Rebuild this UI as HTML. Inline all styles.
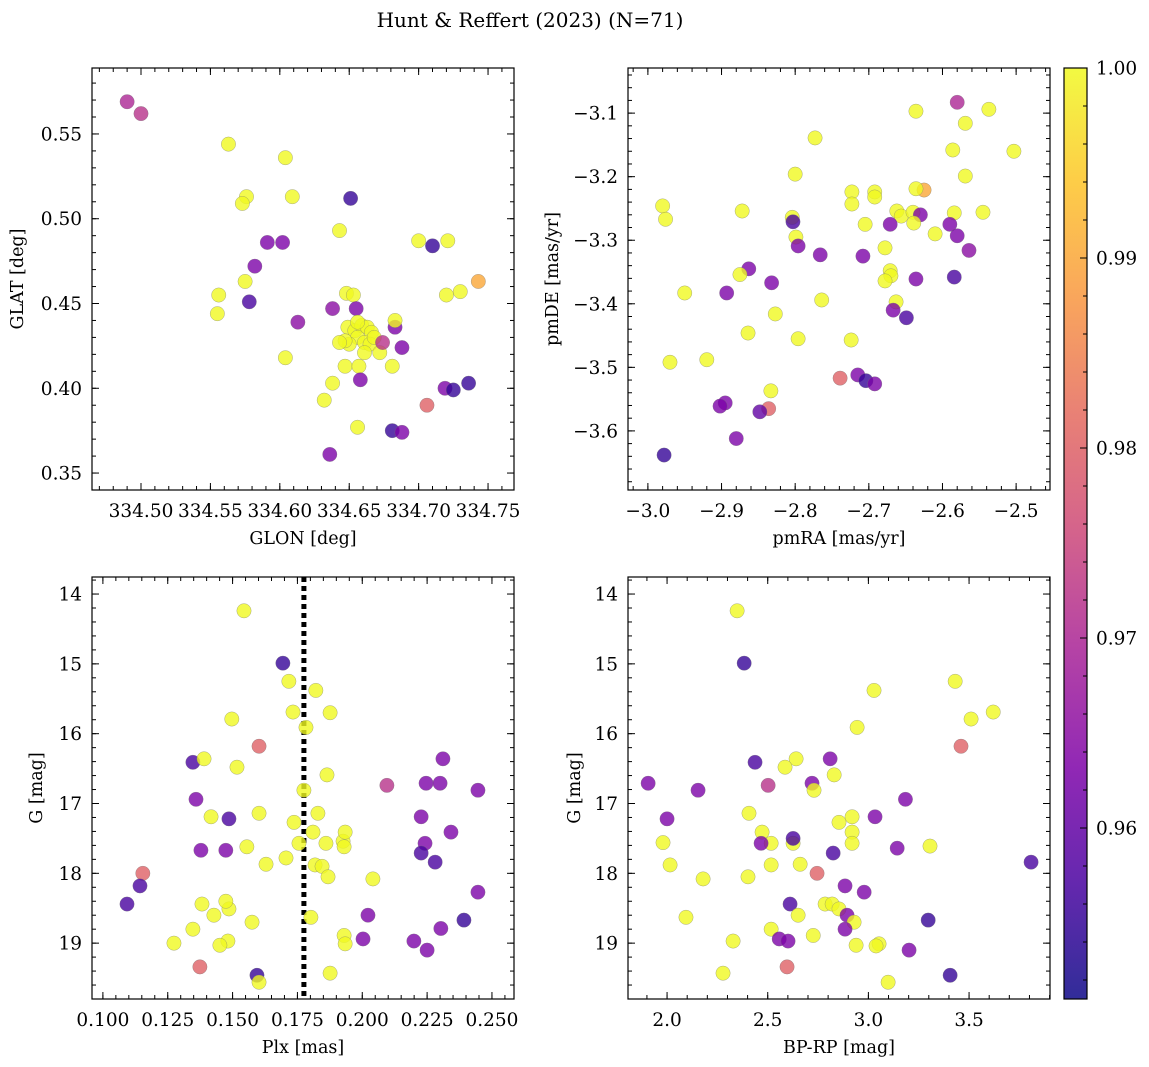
<!DOCTYPE html>
<html><head><meta charset="utf-8"><style>
body{margin:0;background:#fff;}
svg{display:block;font-family:"DejaVu Serif","Liberation Serif",serif;}
</style></head><body>
<svg id="fig" width="1149" height="1067">
<defs><linearGradient id="cmap" x1="0" y1="1" x2="0" y2="0">
<stop offset="0" stop-color="#0d0887"/><stop offset="0.13" stop-color="#4c02a1"/><stop offset="0.25" stop-color="#7e03a8"/><stop offset="0.38" stop-color="#a92395"/><stop offset="0.5" stop-color="#cc4778"/><stop offset="0.63" stop-color="#e56b5d"/><stop offset="0.75" stop-color="#f89540"/><stop offset="0.88" stop-color="#fdc527"/><stop offset="1" stop-color="#f0f921"/></linearGradient></defs>
<text x="530" y="27" font-size="20" text-anchor="middle">Hunt &amp; Reffert (2023) (N=71)</text>
</svg>
<script>
// ---- data ----
const tlGlon=[334.490,334.500,334.563,334.604,334.576,334.573,334.609,334.651,334.643,334.591,334.602,334.700,334.710,334.721,334.582,334.575,334.743,334.556,334.730,334.720,334.578,334.555,334.613,334.638,334.648,334.653,334.655,334.604,334.649,334.654,334.659,334.663,334.666,334.656,334.661,334.650,334.665,334.661,334.656,334.668,334.647,334.672,334.643,334.674,334.683,334.683,334.688,334.647,334.681,334.657,334.658,334.638,334.632,334.656,334.719,334.725,334.736,334.706,334.681,334.688,334.636];
const tlGlat=[0.569,0.562,0.544,0.536,0.513,0.509,0.513,0.512,0.493,0.486,0.486,0.487,0.484,0.487,0.472,0.463,0.463,0.455,0.457,0.455,0.451,0.444,0.439,0.447,0.456,0.455,0.447,0.418,0.436,0.434,0.437,0.436,0.433,0.430,0.427,0.426,0.426,0.421,0.439,0.430,0.428,0.421,0.427,0.427,0.436,0.440,0.424,0.413,0.413,0.413,0.405,0.403,0.393,0.377,0.400,0.399,0.403,0.390,0.375,0.374,0.361];
const tlProb=[.970,.972,1,1,1,1,1,.955,1,.963,.963,1,.955,1,.963,1,.99,1,1,1,.957,1,.965,.965,1,1,.963,1,1,1,1,1,1,1,1,1,1,1,1,1,1,1,1,.972,.963,1,.963,1,1,1,.963,1,1,1,.963,.955,.955,.98,.955,.963,.963];

const trPmra=[-2.580,-2.537,-2.636,-2.569,-2.773,-2.586,-2.503,-2.800,-2.569,-2.723,-2.692,-2.625,-2.636,-2.723,-2.692,-2.980,-2.976,-2.872,-2.804,-2.662,-2.656,-2.640,-2.630,-2.639,-2.584,-2.545,-2.590,-2.705,-2.671,-2.803,-2.610,-2.580,-2.799,-2.796,-2.564,-2.678,-2.766,-2.708,-2.863,-2.671,-2.670,-2.875,-2.636,-2.678,-2.584,-2.832,-2.950,-2.893,-2.764,-2.663,-2.667,-2.649,-2.827,-2.864,-2.796,-2.724,-2.920,-2.970,-2.715,-2.704,-2.692,-2.739,-2.833,-2.895,-2.902,-2.836,-2.848,-2.880,-2.978];
const trPmde=[-3.083,-3.094,-3.097,-3.116,-3.139,-3.158,-3.160,-3.196,-3.199,-3.224,-3.224,-3.221,-3.219,-3.243,-3.232,-3.246,-3.267,-3.254,-3.264,-3.254,-3.262,-3.256,-3.260,-3.273,-3.257,-3.256,-3.275,-3.275,-3.275,-3.271,-3.290,-3.293,-3.295,-3.309,-3.316,-3.312,-3.323,-3.325,-3.345,-3.348,-3.356,-3.354,-3.361,-3.364,-3.358,-3.367,-3.383,-3.383,-3.394,-3.397,-3.410,-3.422,-3.416,-3.446,-3.455,-3.457,-3.488,-3.492,-3.512,-3.521,-3.526,-3.517,-3.537,-3.556,-3.561,-3.565,-3.570,-3.612,-3.638];
const trProb=[.97,1,1,1,1,1,1,1,1,1,1,.99,1,1,1,1,1,1,1,1,1,1,.963,1,1,1,.963,1,.963,.957,1,.963,1,.963,.965,1,.963,.963,.963,1,1,1,.963,1,.957,.963,1,.963,1,1,.963,.957,1,1,1,1,1,1,.963,.955,.963,.98,1,.963,.963,.98,.96,.963,.955];

const blPlx=[0.1544,0.1694,0.1717,0.1821,0.1733,0.1497,0.1783,0.1876,0.1602,0.1347,0.1390,0.1517,0.2311,0.1864,0.2095,0.2246,0.2300,0.2446,0.1775,0.1359,0.1417,0.1486,0.1602,0.1829,0.1737,0.2227,0.1810,0.1926,0.1934,0.1860,0.1756,0.2342,0.2242,0.1378,0.1474,0.1555,0.1930,0.2227,0.2281,0.1629,0.1706,0.1818,0.1845,0.1868,0.2041,0.1154,0.1143,0.2446,0.1093,0.1382,0.1486,0.1474,0.1428,0.1575,0.1802,0.2022,0.1347,0.2392,0.2303,0.1930,0.2003,0.1934,0.1274,0.1482,0.1451,0.2199,0.2250,0.1374,0.1876,0.1594,0.1602];
const blG=[14.24,14.99,15.25,15.38,15.69,15.79,15.91,15.70,16.18,16.41,16.36,16.48,16.36,16.59,16.74,16.71,16.71,16.81,16.81,16.94,17.19,17.22,17.14,17.14,17.27,17.19,17.41,17.54,17.41,17.57,17.57,17.41,17.57,17.67,17.67,17.62,17.62,17.71,17.84,17.87,17.78,17.88,17.90,18.05,18.08,18.00,18.18,18.27,18.44,18.44,18.51,18.40,18.60,18.70,18.63,18.60,18.80,18.67,18.79,18.89,18.94,19.01,19.00,18.97,19.03,18.97,19.10,19.34,19.43,19.46,19.56];
const blProb=[1,.955,1,1,1,1,1,1,.98,.957,1,1,.963,1,.972,.963,.963,.963,1,.963,1,.957,1,1,1,.963,1,1,1,1,1,.963,.963,.963,.963,1,1,.957,.957,1,1,1,1,1,1,.98,.957,.963,.957,1,1,1,1,1,1,.963,1,.955,.963,1,.963,1,1,1,1,.963,.963,.98,1,.955,1];
const plxLine=[0.1775];

const brColor=[2.348,2.383,3.431,3.028,3.620,3.510,2.944,3.460,2.437,2.641,2.586,2.810,2.830,2.502,2.720,1.906,2.154,2.730,3.184,2.407,2.000,2.919,3.033,2.854,2.472,2.919,2.517,2.626,2.919,1.980,2.467,3.306,3.143,2.626,2.825,2.015,2.402,2.517,2.661,3.808,2.179,2.745,2.979,2.884,2.611,2.785,2.820,2.854,2.094,2.651,2.894,2.929,3.297,2.884,2.517,2.726,2.557,2.601,2.328,2.939,3.053,3.038,3.202,2.596,2.278,3.406,3.098];
const brG=[14.24,14.99,15.25,15.38,15.69,15.79,15.91,16.18,16.41,16.36,16.48,16.36,16.59,16.74,16.71,16.71,16.81,16.81,16.94,17.14,17.22,17.19,17.19,17.27,17.41,17.41,17.57,17.57,17.57,17.56,17.57,17.61,17.64,17.50,17.71,17.88,18.05,17.88,17.87,17.84,18.08,18.00,18.27,18.18,18.44,18.44,18.44,18.51,18.63,18.60,18.60,18.70,18.67,18.80,18.80,18.89,18.94,18.97,18.97,19.03,19.01,19.04,19.10,19.34,19.43,19.46,19.56];
const brProb=[1,.955,1,1,1,1,1,.98,.957,1,1,.963,1,.972,.963,.963,.963,1,.963,1,.963,1,.963,1,1,1,1,1,1,1,.963,1,.963,.957,.957,1,1,1,1,.957,1,.98,.963,.963,.957,1,1,1,1,1,.963,1,.955,.963,1,1,.963,.963,1,1,1,1,.963,.98,1,.955,1];

const cbTicks=[0.96,0.97,0.98,0.99,1.00];
const cbMin=0.951, cbMax=1.0;

// ---- drawing ----
const NS='http://www.w3.org/2000/svg';
const svg=document.getElementById('fig');
function mk(tag,attrs,parent){const e=document.createElementNS(NS,tag);for(const k in attrs)e.setAttribute(k,attrs[k]);(parent||svg).appendChild(e);return e;}
const stops=[[0,[13,8,135]],[0.13,[76,2,161]],[0.25,[126,3,168]],[0.38,[169,35,149]],[0.5,[204,71,120]],[0.63,[229,107,93]],[0.75,[248,149,64]],[0.88,[253,197,39]],[1,[240,249,33]]];
function plasma(v){let t=(v-cbMin)/(cbMax-cbMin);t=Math.max(0,Math.min(1,t));for(let i=1;i<stops.length;i++){if(t<=stops[i][0]){const a=stops[i-1],b=stops[i];const f=(t-a[0])/(b[0]-a[0]);const c=a[1].map((x,j)=>Math.round(x+(b[1][j]-x)*f));return `rgb(${c.join(',')})`;}}return 'rgb(240,249,33)';}
function lin(d0,d1,p0,p1){return v=>p0+(v-d0)/(d1-d0)*(p1-p0);}
const TFS=18.5, LFS=17.5;

function panel(o){
  const g=mk('g',{});
  
  
  const sx=lin(o.xd[0],o.xd[1],o.L,o.R), sy=lin(o.yd[0],o.yd[1],o.B,o.T);
  const cp=mk('clipPath',{id:'c'+o.name},g);mk('rect',{x:o.L,y:o.T,width:o.R-o.L,height:o.B-o.T},cp);
  const pg=mk('g',{'clip-path':`url(#c${o.name})`},g);
  if(o.vline){o.vline.forEach(v=>{const l=mk('line',{x1:sx(v),x2:sx(v),y1:o.T,y2:o.B,stroke:'#000','stroke-width':5,'stroke-dasharray':'5,4'},pg);
    
    });}
  o.x.forEach((xv,i)=>{const c=mk('circle',{cx:sx(xv),cy:sy(o.y[i]),r:7.2,fill:plasma(o.c[i]),'fill-opacity':0.8,stroke:'#777','stroke-opacity':0.6,'stroke-width':0.5},pg);
    
    });
  mk('rect',{x:o.L,y:o.T,width:o.R-o.L,height:o.B-o.T,fill:'none',stroke:'#000','stroke-width':1.2},g);
  const lo=Math.min(...o.xd),hi=Math.max(...o.xd);
  for(let v=Math.ceil(lo/o.xmin-1e-6)*o.xmin;v<=hi+1e-9;v+=o.xmin){const X=sx(v);mk('line',{x1:X,x2:X,y1:o.B,y2:o.B-4,stroke:'#000'},g);mk('line',{x1:X,x2:X,y1:o.T,y2:o.T+4,stroke:'#000'},g);}
  o.xt.forEach(v=>{const X=sx(v);mk('line',{x1:X,x2:X,y1:o.B,y2:o.B-7,stroke:'#000'},g);mk('line',{x1:X,x2:X,y1:o.T,y2:o.T+7,stroke:'#000'},g);
    const t=mk('text',{x:X,y:o.B+27,'font-size':TFS,'text-anchor':'middle'},g);t.textContent=(v<0?'\u2212':'')+Math.abs(v).toFixed(o.xf);
    
    });
  const ylo=Math.min(...o.yd),yhi=Math.max(...o.yd);
  for(let v=Math.ceil(ylo/o.ymin-1e-6)*o.ymin;v<=yhi+1e-9;v+=o.ymin){const Y=sy(v);mk('line',{x1:o.L,x2:o.L+4,y1:Y,y2:Y,stroke:'#000'},g);mk('line',{x1:o.R,x2:o.R-4,y1:Y,y2:Y,stroke:'#000'},g);}
  o.yt.forEach(v=>{const Y=sy(v);mk('line',{x1:o.L,x2:o.L+7,y1:Y,y2:Y,stroke:'#000'},g);mk('line',{x1:o.R,x2:o.R-7,y1:Y,y2:Y,stroke:'#000'},g);
    const t=mk('text',{x:o.L-10,y:Y+6.5,'font-size':TFS,'text-anchor':'end'},g);t.textContent=(v<0?'\u2212':'')+Math.abs(v).toFixed(o.yf);
    
    });
  const xl=mk('text',{x:(o.L+o.R)/2,y:o.B+54,'font-size':LFS,'text-anchor':'middle'},g);xl.textContent=o.xlab;
  
  
  const yx=o.ylx, yy=(o.T+o.B)/2;
  const yl=mk('text',{x:yx,y:yy,'font-size':LFS,'text-anchor':'middle',transform:`rotate(-90 ${yx} ${yy})`},g);yl.textContent=o.ylab;
  
  
}
function rng(a,b,s){const r=[];for(let v=a;v<=b+1e-9;v+=s)r.push(+v.toFixed(6));return r;}
panel({name:'glon-glat-panel',L:92,R:514,T:68,B:490,xd:[334.4647,334.7687],yd:[0.340,0.5889],x:tlGlon,y:tlGlat,c:tlProb,xt:rng(334.50,334.75,0.05),xf:2,xmin:0.01,yt:rng(0.35,0.55,0.05),yf:2,ymin:0.01,xlab:'GLON [deg]',ylab:'GLAT [deg]',ylx:23});
panel({name:'proper-motion-panel',L:628,R:1050,T:68,B:490,xd:[-3.027,-2.454],yd:[-3.693,-3.029],x:trPmra,y:trPmde,c:trProb,xt:rng(-3.0,-2.5,0.1),xf:1,xmin:0.02,yt:rng(-3.6,-3.1,0.1),yf:1,ymin:0.02,xlab:'pmRA [mas/yr]',ylab:'pmDE [mas/yr]',ylx:558});
panel({name:'parallax-panel',L:92,R:514,T:577,B:999,xd:[0.0958,0.2585],yd:[19.80,13.756],x:blPlx,y:blG,c:blProb,xt:rng(0.1,0.25,0.025),xf:3,xmin:0.005,yt:rng(14,19,1),yf:0,ymin:0.2,xlab:'Plx [mas]',ylab:'G [mag]',ylx:42,vline:plxLine});
panel({name:'cmd-panel',L:628,R:1050,T:577,B:999,xd:[1.806,3.902],yd:[19.80,13.756],x:brColor,y:brG,c:brProb,xt:rng(2.0,3.5,0.5),xf:1,xmin:0.1,yt:rng(14,19,1),yf:0,ymin:0.2,xlab:'BP-RP [mag]',ylab:'G [mag]',ylx:580});

// colorbar
const cb=mk('g',{});


const cT=68,cB=999,cL=1064,cR=1087;
mk('rect',{x:cL,y:cT,width:cR-cL,height:cB-cT,fill:'url(#cmap)','fill-opacity':0.85,stroke:'#000','stroke-width':1.2},cb);
const cy=lin(cbMin,cbMax,cB,cT);
for(let v=0.952;v<=1.0001;v+=0.002){const Y=cy(v);mk('line',{x1:cR,x2:cR-4,y1:Y,y2:Y,stroke:'#000'},cb);}
cbTicks.forEach(v=>{const Y=cy(v);mk('line',{x1:cR,x2:cR-7,y1:Y,y2:Y,stroke:'#000'},cb);
  const t=mk('text',{x:cR+9,y:Y+6.5,'font-size':TFS},cb);t.textContent=v.toFixed(2);
  
  });
</script>
</body></html>
